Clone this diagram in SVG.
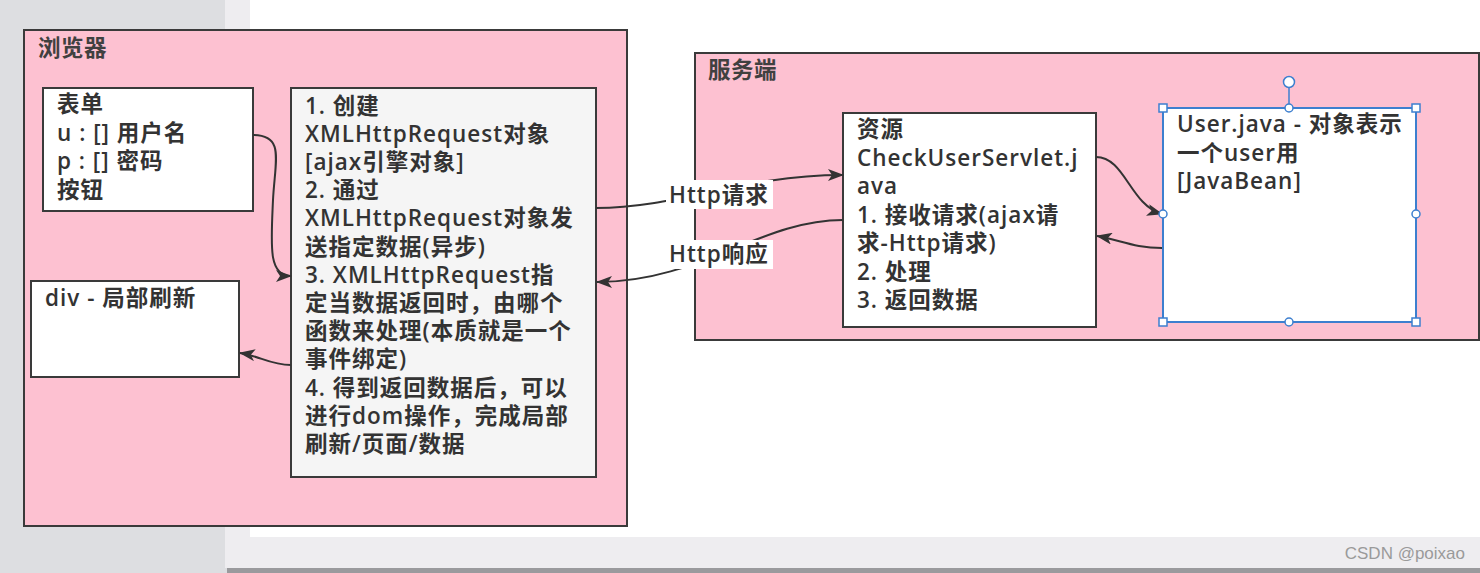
<svg xmlns="http://www.w3.org/2000/svg" width="1480" height="573" viewBox="0 0 1480 573">
<defs>
<style>
.t{font-family:"Open Sans","Noto Sans CJK SC",sans-serif;font-weight:600;font-size:22.5px;letter-spacing:1px;fill:#333}
.title{font-family:"Open Sans","Noto Sans CJK SC",sans-serif;font-weight:600;font-size:22.5px;letter-spacing:0.5px;fill:#404040}
.grp{fill:#fdc1d1;stroke:#3a3a3a;stroke-width:2}
.box{fill:#fff;stroke:#3a3a3a;stroke-width:2}
.conn path{fill:none;stroke:#333;stroke-width:2}
.h{fill:#fff;stroke:#3d7fcf;stroke-width:1.5}
</style>
<marker id="arr" markerUnits="userSpaceOnUse" markerWidth="16" markerHeight="12" refX="15" refY="6" orient="auto">
<path d="M0,0 L16,6 L0,12 L4,6 Z" fill="#333"/>
</marker>
</defs>
<!-- background -->
<rect x="0" y="0" width="1480" height="573" fill="#dddee1"/>
<rect x="225" y="0" width="1255" height="568" fill="#eeedf0"/>
<rect x="250" y="0" width="1230" height="537" fill="#ffffff"/>
<rect x="227" y="568" width="1253" height="5" fill="#9a9a9d"/>
<text x="1465" y="559" text-anchor="end" style="font-family:'Liberation Sans',Arial,sans-serif;font-size:17px;fill:#9a9a9a">CSDN @poixao</text>

<g id="browser">
<rect class="grp" x="24" y="30" width="603" height="496"/>
<text class="title" x="38" y="56">浏览器</text>
</g>
<g id="server">
<rect class="grp" x="695" y="53" width="784" height="287"/>
<text class="title" x="708" y="78">服务端</text>
</g>

<g id="form">
<rect class="box" x="43" y="88" width="210" height="123"/>
<text class="t" x="57" y="112">表单</text>
<text class="t" x="57" y="140.5">u : [] 用户名</text>
<text class="t" x="57" y="169">p : [] 密码</text>
<text class="t" x="57" y="197.5">按钮</text>
</g>

<g id="div">
<rect class="box" x="31" y="281" width="208" height="96"/>
<text class="t" x="45" y="306">div - 局部刷新</text>
</g>

<g id="ajax">
<rect class="box" x="291" y="88" width="305" height="389" style="fill:#f5f5f5"/>
<text class="t" x="305" y="113.5">1. 创建</text>
<text class="t" x="305" y="141.7">XMLHttpRequest对象</text>
<text class="t" x="305" y="169.9">[ajax引擎对象]</text>
<text class="t" x="305" y="198.1">2. 通过</text>
<text class="t" x="305" y="226.3">XMLHttpRequest对象发</text>
<text class="t" x="305" y="254.5">送指定数据(异步)</text>
<text class="t" x="305" y="282.7">3. XMLHttpRequest指</text>
<text class="t" x="305" y="310.9">定当数据返回时，由哪个</text>
<text class="t" x="305" y="339.1">函数来处理(本质就是一个</text>
<text class="t" x="305" y="367.3">事件绑定)</text>
<text class="t" x="305" y="395.5">4. 得到返回数据后，可以</text>
<text class="t" x="305" y="423.7">进行dom操作，完成局部</text>
<text class="t" x="305" y="451.9">刷新/页面/数据</text>
</g>

<g id="resource">
<rect class="box" x="843" y="113" width="253" height="214"/>
<text class="t" x="857" y="137">资源</text>
<text class="t" x="857" y="165.5">CheckUserServlet.j</text>
<text class="t" x="857" y="194">ava</text>
<text class="t" x="857" y="222.5">1. 接收请求(ajax请</text>
<text class="t" x="857" y="251">求-Http请求)</text>
<text class="t" x="857" y="279.5">2. 处理</text>
<text class="t" x="857" y="308">3. 返回数据</text>
</g>

<g id="user">
<rect x="1163" y="108" width="253" height="214" fill="#fff" stroke="#3d7fcf" stroke-width="2"/>
<text class="t" x="1177" y="132">User.java - 对象表示</text>
<text class="t" x="1177" y="160.5">一个user用</text>
<text class="t" x="1177" y="189">[JavaBean]</text>
</g>

<g id="connectors" class="conn">
<path d="M253,135 C285,135 275,160 273,200 C271,245 268,276 291,276" marker-end="url(#arr)"/>
<path d="M291,365 C270,365 260,356 240,353" marker-end="url(#arr)"/>
<path d="M596,208 C680,208 740,175 843,175" marker-end="url(#arr)"/>
<path d="M843,220 C760,220 700,282 597,282" marker-end="url(#arr)"/>
<path d="M1096,157 C1125,157 1130,205 1162,214" marker-end="url(#arr)"/>
<path d="M1162,248 C1135,248 1120,240 1097,236" marker-end="url(#arr)"/>
</g>

<g id="label-request">
<rect x="666" y="180" width="107" height="29" fill="#fff"/>
<text class="t" x="669" y="203">Http请求</text>
</g>
<g id="label-response">
<rect x="666" y="240" width="107" height="29" fill="#fff"/>
<text class="t" x="669" y="262">Http响应</text>
</g>

<g id="selection">
<line x1="1289" y1="88" x2="1289" y2="108" stroke="#3d7fcf" stroke-width="1.5"/>
<circle class="h" cx="1289" cy="82" r="5.5"/>
<rect class="h" x="1159" y="104" width="8" height="8"/>
<rect class="h" x="1412" y="104" width="8" height="8"/>
<rect class="h" x="1159" y="318" width="8" height="8"/>
<rect class="h" x="1412" y="318" width="8" height="8"/>
<circle class="h" cx="1289" cy="108" r="4"/>
<circle class="h" cx="1289" cy="322" r="4"/>
<circle class="h" cx="1163" cy="214" r="4"/>
<circle class="h" cx="1416" cy="214" r="4"/>
</g>
</svg>
